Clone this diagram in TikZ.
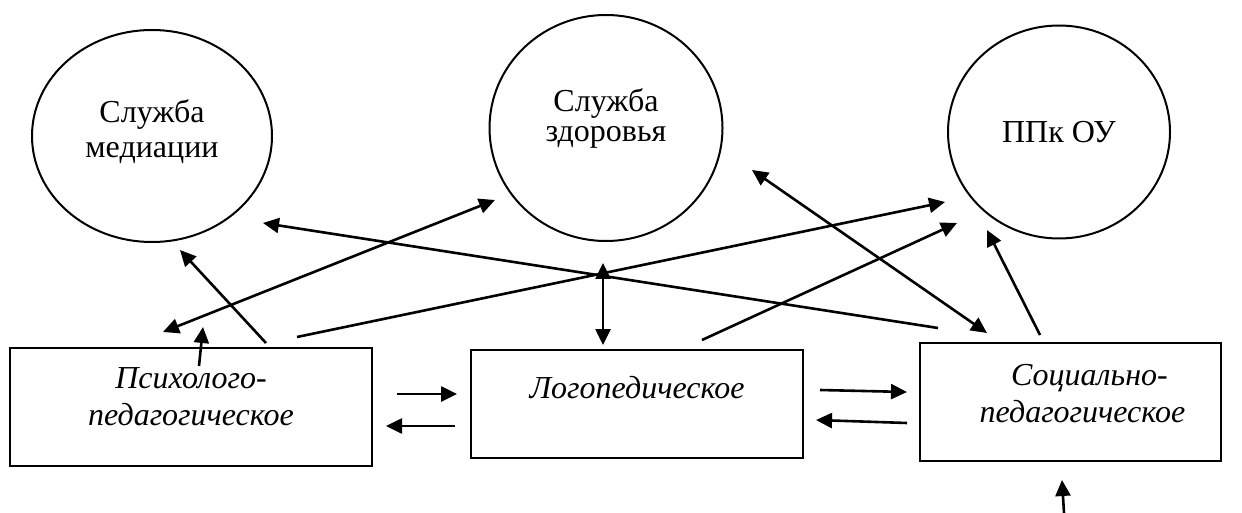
\documentclass[tikz,border=0pt]{standalone}
\usepackage{fontspec}
\setmainfont{Liberation Serif}
\usetikzlibrary{arrows.meta,shapes.geometric}
\tikzset{
>={Triangle[length=8pt,width=7.5pt]},
}

\begin{document}
\begin{tikzpicture}[x=0.5pt, y=-0.5pt]
    \tikzset{
        service/.style={ellipse, draw=black, line width=1pt, inner sep=0pt, align=center, font=\fontsize{16}{17.5}\selectfont},
        branch/.style={rectangle, draw=black, line width=1pt, inner sep=0pt, align=center, font=\fontsize{16}{18.5}\selectfont\itshape},
        link/.style={draw, line width=1.3pt, ->},
        dlink/.style={draw, line width=1.3pt, <->},
    }
    \useasboundingbox (0,0) rectangle (1242,513);

    % services
    \node[service, minimum width=120pt, minimum height=106pt, text height=25pt, text depth=3pt] (med) at (152,136) {Служба\\медиации};
    \node[service, minimum width=116.5pt, minimum height=113pt, text height=17pt, text depth=3pt] (hlth) at (606,128) {Служба\\[-2.5pt]здоровья};
    \node[service, minimum width=111pt, minimum height=106.5pt, text height=11pt, text depth=0pt] (ppk) at (1059,132) {ППк ОУ};

    % directions
    \node[branch, minimum width=181pt, minimum height=59pt, text height=22pt, text depth=4pt] (psy) at (191,407) {Психолого-\\педагогическое};
    \node[branch, minimum width=166pt, minimum height=54pt, text height=11pt, text depth=17pt] (logo) at (637,404) {Логопедическое};
    \node[branch, minimum width=150.5pt, minimum height=59pt, text height=24pt, text depth=4pt] (soc) at (1070.5,402) {\hspace*{19pt}Социально-\\\hspace*{12pt}педагогическое};

    % ends of the arrows
    \coordinate (psy-med-a) at (266,343);   \coordinate (psy-med-b) at (180,250);
    \coordinate (psy-hlth-a) at (163,332);  \coordinate (psy-hlth-b) at (495,200);
    \coordinate (psy-ppk-a) at (297,337);   \coordinate (psy-ppk-b) at (945,202);
    \coordinate (soc-med-a) at (938,328);   \coordinate (soc-med-b) at (263,223);
    \coordinate (psy-up-a) at (199,366);    \coordinate (psy-up-b) at (203,327);
    \coordinate (hlth-logo-a) at (603,263); \coordinate (hlth-logo-b) at (603,345);
    \coordinate (logo-ppk-a) at (702,340);  \coordinate (logo-ppk-b) at (957,223);
    \coordinate (hlth-soc-a) at (752,170);  \coordinate (hlth-soc-b) at (987,333);
    \coordinate (soc-ppk-a) at (1040,335);  \coordinate (soc-ppk-b) at (987,230);
    \coordinate (psy-logo-a) at (397,394);  \coordinate (psy-logo-b) at (457,394);
    \coordinate (logo-psy-a) at (455,426);  \coordinate (logo-psy-b) at (386,426);
    \coordinate (logo-soc-a) at (820,390);  \coordinate (logo-soc-b) at (907,392);
    \coordinate (soc-logo-a) at (907,423);  \coordinate (soc-logo-b) at (816,420);
    \coordinate (soc-in-a) at (1064,513);   \coordinate (soc-in-b) at (1062,480);

    \draw[link] (psy-med-a) -- (psy-med-b);
    \draw[dlink] (psy-hlth-a) -- (psy-hlth-b);
    \draw[link] (psy-ppk-a) -- (psy-ppk-b);
    \draw[link] (soc-med-a) -- (soc-med-b);
    \draw[link] (psy-up-a) -- (psy-up-b);
    \draw[dlink] (hlth-logo-a) -- (hlth-logo-b);
    \draw[link] (logo-ppk-a) -- (logo-ppk-b);
    \draw[dlink] (hlth-soc-a) -- (hlth-soc-b);
    \draw[link] (soc-ppk-a) -- (soc-ppk-b);
    \draw[link] (psy-logo-a) -- (psy-logo-b);
    \draw[link] (logo-psy-a) -- (logo-psy-b);
    \draw[link] (logo-soc-a) -- (logo-soc-b);
    \draw[link] (soc-logo-a) -- (soc-logo-b);
    \draw[link] (soc-in-a) -- (soc-in-b);

\end{tikzpicture}
\end{document}
